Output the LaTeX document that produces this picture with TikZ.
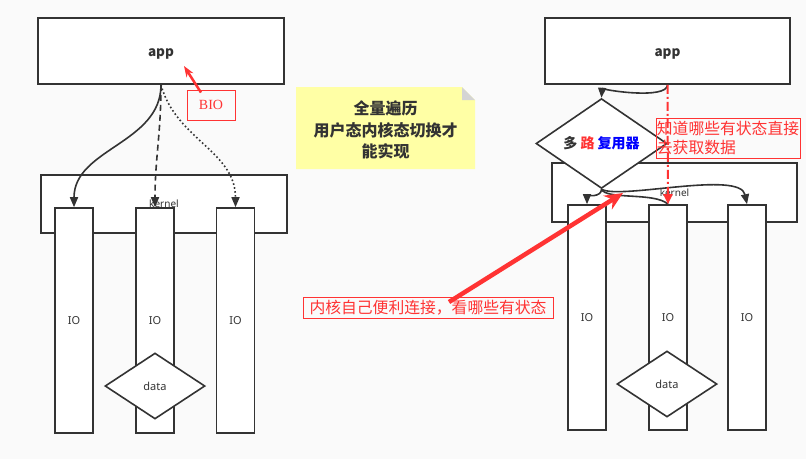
\documentclass[tikz,border=0pt]{standalone}
\usepackage{fontspec}
\setmainfont{Noto Sans}
\newfontfamily\cjk{Noto Sans CJK SC}
\newfontfamily\biofont{Liberation Serif}
\usepackage{xcolor}
\usetikzlibrary{shapes.geometric,arrows.meta,positioning,calc}
\definecolor{linec}{RGB}{51,51,51}
\definecolor{bgc}{RGB}{250,250,250}
\definecolor{notec}{RGB}{255,255,165}
\definecolor{markred}{RGB}{255,51,51}
\definecolor{muxblue}{RGB}{0,0,255}
\tikzset{
  blk/.style={draw=linec, line width=1.6pt, fill=white, inner sep=0pt, text=linec},
  appbox/.style={blk, minimum width=246pt, minimum height=66pt, text height=11pt, text depth=0pt, font=\cjk\bfseries\fontsize{13.5}{15}\selectfont},
  kbox/.style={blk, minimum width=246pt, minimum height=58pt},
  klabel/.style={font=\fontsize{10}{12}\selectfont, text=linec},
  iobox/.style={blk, minimum width=38pt, minimum height=225pt, font=\fontsize{11}{13}\selectfont},
  datadia/.style={blk, diamond, minimum width=100pt, minimum height=66pt, font=\fontsize{11}{13}\selectfont},
  redbox/.style={draw=markred, line width=0.9pt, text=markred, inner sep=0pt},
  flow/.style={draw=linec, line width=1.6pt, -{Triangle[length=10pt,width=8pt]}},
}

\begin{document}
\begin{tikzpicture}[x=1pt,y=-1pt]
% canvas
\fill[bgc] (0,0) rectangle (806,459);
\useasboundingbox (0,0) rectangle (806,459);

% ---- left half: BIO
\node[appbox] (appL) at (161,51) {app};
\node[kbox] (kernL) at (164,204) {};
\node[klabel] (kernLtxt) at (164,204) {kernel};
\foreach \n/\x in {1/74, 2/155, 3/235.5} {
    \node[iobox] (ioL\n) at (\x,320.5) {IO};
}
\node[datadia] (dataL) at (155,386) {data};
\draw[flow] (appL.south) to[out=-90,in=90] (ioL1.north);
\draw[flow, dash pattern=on 6pt off 4pt] (appL.south) to[out=-90,in=90] (ioL2.north);
\draw[flow, dash pattern=on 1.6pt off 2.4pt] (appL.south) to[out=-75,in=90] (ioL3.north);
% BIO tag
\node[redbox, minimum width=48pt, minimum height=30pt, font=\biofont\fontsize{14}{16}\selectfont] (bio) at (211,105) {BIO};
\coordinate (bioTip) at (184,66);
\draw[markred, line width=2.5pt, -{Stealth[length=11pt,width=8pt]}] ([xshift=-10pt,yshift=-3pt]bio.north) -- (bioTip);

% ---- note in the middle
\fill[notec] (296,87) -- (462,87) -- (475,100) -- (475,169) -- (296,169) -- cycle;
\fill[black!17] (462,87) -- (475,100) -- (462,100) -- cycle;
\node[font=\cjk\bfseries\fontsize{16}{21.5}\selectfont, text=linec, align=center] (note) at (385.5,130) {全量遍历\\用户态内核态切换才\\能实现};

% ---- right half: multiplexing
\node[appbox, minimum width=245pt] (appR) at (667.5,51) {app};
\node[kbox, minimum width=245pt, minimum height=59pt] (kernR) at (674.5,192.5) {};
\node[klabel] (kernRtxt) at (674.5,192.5) {kernel};
\foreach \n/\x in {1/587, 2/668, 3/747} {
    \node[iobox] (ioR\n) at (\x,317.5) {IO};
}
\node[datadia] (dataR) at (667,384) {data};
\node[blk, diamond, minimum width=131pt, minimum height=61pt, font=\cjk\bfseries\fontsize{14}{16}\selectfont] (mux) at (601.5,143.5) {多 \textcolor{markred}{路} \textcolor{muxblue}{复用器}};
\draw[flow] (appR.south) .. controls (667,100) and (602,90) .. (mux.north);
\draw[flow] (mux.south) to[out=-90,in=90] (ioR1.north);
\draw[draw=linec, line width=1.6pt] (mux.south) .. controls (606,200) and (655,192) .. (ioR2.north);
\draw[flow] (mux.south) .. controls (620,200) and (740,170) .. (ioR3.north);
\draw[markred, line width=2pt, dash pattern=on 9pt off 3pt on 2pt off 3pt, -{Triangle[length=10pt,width=9pt]}] (appR.south) -- (ioR2.north);
\node[redbox, minimum width=144pt, minimum height=40pt, align=left, font=\cjk\fontsize{15.8}{19}\selectfont] (know) at (728,138) {知道哪些有状态直接\\去获取数据};

% ---- pointer to the kernel side
\node[redbox, minimum width=250pt, minimum height=21pt, font=\cjk\fontsize{15.8}{18}\selectfont] (poll) at (428,307.5) {内核自己便利连接，看哪些有状态};
\coordinate (pollTail) at (449,302);
\coordinate (pollTip) at (623,193);
\draw[markred, line width=4.5pt, -{Stealth[length=18pt,width=16pt]}] (pollTail) -- (pollTip);
\end{tikzpicture}
\end{document}
